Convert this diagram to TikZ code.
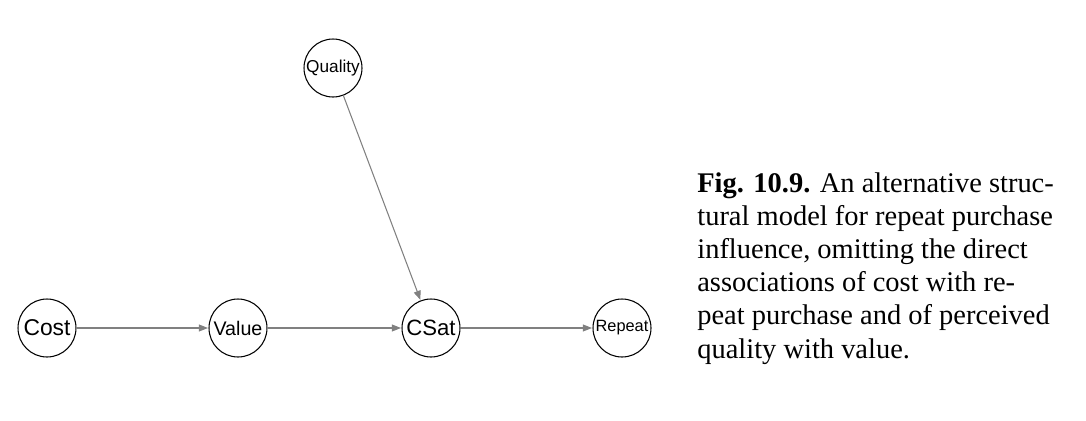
\documentclass[tikz,border=0pt]{standalone}
\usepackage{fontspec}
\setmainfont{Liberation Serif}
\newfontfamily\varfont{Liberation Sans}
\usetikzlibrary{arrows.meta}
\definecolor{edgegray}{RGB}{128,128,128}

\begin{document}
\begin{tikzpicture}[x=0.02cm,y=-0.02cm,
		var/.style={draw,circle,line width=0.6pt,minimum size=1.16cm,inner sep=0pt},
		link/.style={draw=edgegray,line width=0.6pt,-{Triangle[length=5.2pt,width=4pt]},shorten >=0.3pt}]
		%%%%% START %%%%%
		
		\useasboundingbox (0,0) rectangle (1086,420);
		
		% variables
		\node[var,font=\varfont\fontsize{9.8}{10}\selectfont] (quality) at (333,68) {Quality};
		\node[var,font=\varfont\fontsize{13}{13}\selectfont] (cost) at (47,328) {Cost};
		\node[var,font=\varfont\fontsize{11.2}{11}\selectfont] (value) at (238,328) {Value};
		\node[var,font=\varfont\fontsize{12.6}{13}\selectfont] (csat) at (431,328) {CSat};
		\node[var,font=\varfont\fontsize{9.3}{10}\selectfont] (repeat) at (622,328) {Repeat};
		
		% paths
		\draw[link] (cost) -- (value);
		\draw[link] (value) -- (csat);
		\draw[link] (csat) -- (repeat);
		\draw[link] (quality) -- (csat);
		
		% caption
		\node[anchor=north west,inner sep=0pt,align=left,
			font=\fontsize{16.2}{18.9}\selectfont] (caption) at (697,172)
			{\textbf{Fig. 10.9.} An alternative struc-\\
			tural model for repeat purchase\\
			influence, omitting the direct\\
			associations of cost with re-\\
			peat purchase and of perceived\\
			quality with value.};
		
		%%%%% END %%%%%
	\end{tikzpicture}
\end{document}
